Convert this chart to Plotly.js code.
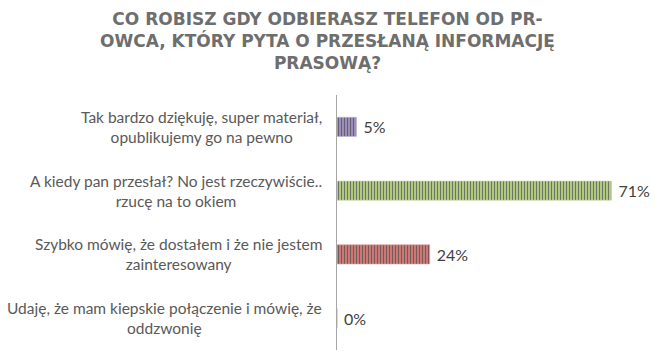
<!DOCTYPE html>
<html>
<head>
<meta charset="utf-8">
<script src="https://cdn.plot.ly/plotly-3.0.1.min.js"></script>
<style>html,body{margin:0;padding:0;background:#fff;}#chart{width:655px;height:355px;}</style>
</head>
<body>
<div id="chart"></div>
<script>
var categories = [
  "Tak bardzo dziękuję, super materiał,<br>opublikujemy go na pewno",
  "A kiedy pan przesłał? No jest rzeczywiście..<br>rzucę na to okiem",
  "Szybko mówię, że dostałem i że nie jestem<br>zainteresowany",
  "Udaję, że mam kiepskie połączenie i mówię, że<br>oddzwonię"
];
var values = [5, 71, 24, 0];
var barColors = ["#A392C3", "#B8D088", "#D27D7A", "#7FA2CF"];
var lineColors = ["#B9AAD2", "#C6DA9C", "#DE9A98", "#9DB8DC"];
var titleText = "CO ROBISZ GDY ODBIERASZ TELEFON OD PR-<br>OWCA, KTÓRY PYTA O PRZESŁANĄ INFORMACJĘ<br>PRASOWĄ?";

var trace = {
  type: "bar",
  orientation: "h",
  x: values,
  y: categories,
  width: 0.3,
  marker: {
    color: barColors,
    line: {color: lineColors, width: 0.6},
    pattern: {shape: "|", fillmode: "overlay", fgcolor: "#ffffff", fgopacity: 0.65, size: 3, solidity: 0.4}
  },
  text: values.map(function(v){return "\u00a0" + v + "%";}),
  textposition: "outside",
  textfont: {family: "Lato, sans-serif", size: 20, color: "#404040"},
  cliponaxis: false,
  hoverinfo: "none"
};

var annotations = categories.map(function(c){
  return {
    xref: "paper", yref: "y", x: 0, y: c,
    xanchor: "right", yanchor: "middle", xshift: -13,
    text: c, align: "center", showarrow: false,
    font: {family: "Lato, sans-serif", size: 15.5, color: "#595959"}
  };
});

annotations.push({
  xref: "paper", yref: "paper", x: (327.5 - 337) / 313, y: 1,
  xanchor: "center", yanchor: "top", yshift: 88,
  text: titleText, align: "center", showarrow: false,
  font: {family: "DejaVu Sans, sans-serif", size: 17, color: "#6e6e6e", weight: "bold"}
});

var layout = {
  width: 655, height: 355,
  margin: {l: 337, r: 5, t: 95, b: 5},
  paper_bgcolor: "#fff", plot_bgcolor: "#fff",
  showlegend: false,
  xaxis: {range: [0, 81], visible: false, showgrid: false, zeroline: false},
  yaxis: {
    autorange: "reversed", showticklabels: false, ticks: "",
    showline: true, linecolor: "#A6A6A6", linewidth: 1, showgrid: false, zeroline: false
  },
  annotations: annotations
};

Plotly.newPlot("chart", [trace], layout, {staticPlot: true, displayModeBar: false});
</script>
</body>
</html>
